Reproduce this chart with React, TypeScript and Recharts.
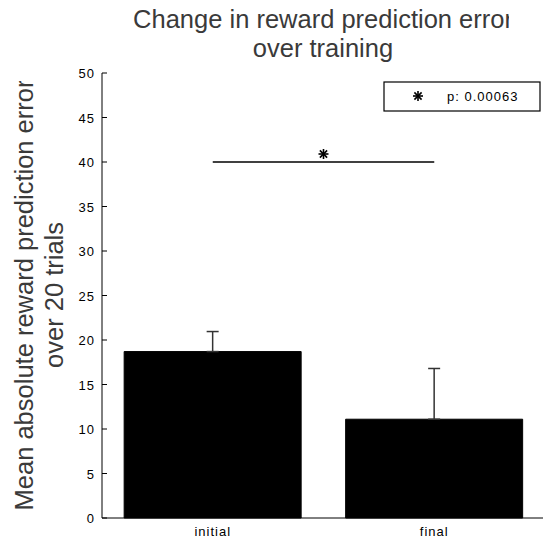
import React from 'react';
import { BarChart, Bar, XAxis, YAxis, ErrorBar, ReferenceLine } from 'recharts';

const categories = ['initial', 'final'];
const meanValues = [18.7, 11.1];
const errorValues = [2.25, 5.7];
const yTicks = [0, 5, 10, 15, 20, 25, 30, 35, 40, 45, 50];
const sigLevel = 40;
const pLabel = 'p: 0.00063';
const titleLines = ['Change in reward prediction error', 'over training'];
const yLabelLines = ['Mean absolute reward prediction error', 'over 20 trials'];

const data = categories.map((c, i) => ({ name: c, value: meanValues[i], err: [0, errorValues[i]] }));

const FONT = '"Liberation Sans", Arial, Helvetica, sans-serif';

const Star = ({ cx, cy, r = 5 }: { cx: number; cy: number; r?: number }) => {
  const d = r * 0.72;
  return (
    <g stroke="#000" strokeWidth={1.6} strokeLinecap="butt">
      <line x1={cx - r} y1={cy} x2={cx + r} y2={cy} />
      <line x1={cx} y1={cy - r} x2={cx} y2={cy + r} />
      <line x1={cx - d} y1={cy - d} x2={cx + d} y2={cy + d} />
      <line x1={cx - d} y1={cy + d} x2={cx + d} y2={cy - d} />
    </g>
  );
};

const YTick = (props: any) => {
  const { x, y, payload } = props;
  return (
    <g>
      <line x1={x} y1={y} x2={x + 5} y2={y} stroke="#000" strokeWidth={1} />
      <text x={x - 7} y={y + 5} textAnchor="end" fontSize={13} letterSpacing={1} fontFamily={FONT} fill="#000">
        {payload.value}
      </text>
    </g>
  );
};

const XTick = (props: any) => {
  const { x, y, payload } = props;
  return (
    <text x={x} y={y + 16} textAnchor="middle" fontSize={13} letterSpacing={1} fontFamily={FONT} fill="#000">
      {payload.value}
    </text>
  );
};

const SigLabel = (props: any) => {
  const vb = props.viewBox || {};
  const cx = (vb.x ?? 0) + (vb.width ?? 0) / 2;
  const cy = (vb.y ?? 0) - 8;
  return <Star cx={cx} cy={cy} r={5} />;
};

export default function App() {
  return (
    <div style={{ position: 'absolute', left: 0, top: 0, width: 543, height: 539, background: '#fff' }}>
      <BarChart
        width={543}
        height={539}
        data={data}
        margin={{ top: 73, right: -2, left: 42, bottom: 0 }}
        barCategoryGap="10%"
      >
        <defs>
          <clipPath id="titleClip">
            <rect x={0} y={0} width={509} height={70} />
          </clipPath>
          <clipPath id="ylabClip">
            <rect x={0} y={81} width={80} height={458} />
          </clipPath>
        </defs>
        <XAxis
          dataKey="name"
          type="category"
          height={21}
          tickLine={false}
          tickSize={0}
          tick={<XTick />}
          axisLine={{ stroke: '#000', strokeWidth: 1 }}
          interval={0}
        />
        <YAxis
          type="number"
          domain={[0, 50]}
          ticks={yTicks}
          width={60}
          tickLine={false}
          tickSize={0}
          tickMargin={0}
          tick={<YTick />}
          axisLine={{ stroke: '#000', strokeWidth: 1 }}
          interval={0}
        />
        <Bar dataKey="value" fill="#000" stroke="#000" isAnimationActive={false}>
          <ErrorBar dataKey="err" direction="y" width={6} stroke="#333" strokeWidth={1.5} isAnimationActive={false} />
        </Bar>
        <ReferenceLine
          segment={[{ x: categories[0], y: sigLevel }, { x: categories[1], y: sigLevel }]}
          stroke="#000"
          strokeWidth={1.5}
          label={<SigLabel />}
          ifOverflow="visible"
        />
        <g clipPath="url(#titleClip)">
          <text x={323} y={28} textAnchor="middle" fontSize={25.5} fontFamily={FONT} fill="#3a3a3a">
            {titleLines[0]}
          </text>
        </g>
        <text x={323} y={57} textAnchor="middle" fontSize={25.5} fontFamily={FONT} fill="#3a3a3a">
          {titleLines[1]}
        </text>
        <g clipPath="url(#ylabClip)">
          <text x={33} y={295} transform="rotate(-90 33 295)" textAnchor="middle" fontSize={25.5} fontFamily={FONT} fill="#3a3a3a">
            {yLabelLines[0]}
          </text>
          <text x={63} y={295} transform="rotate(-90 63 295)" textAnchor="middle" fontSize={25.5} fontFamily={FONT} fill="#3a3a3a">
            {yLabelLines[1]}
          </text>
        </g>
        <g>
          <rect x={384} y={82} width={156} height={29} fill="#fff" stroke="#000" strokeWidth={1.2} />
          <Star cx={418} cy={96} r={5} />
          <text x={447} y={101} fontSize={13} letterSpacing={1} fontFamily={FONT} fill="#000">
            {pLabel}
          </text>
        </g>
      </BarChart>
    </div>
  );
}
